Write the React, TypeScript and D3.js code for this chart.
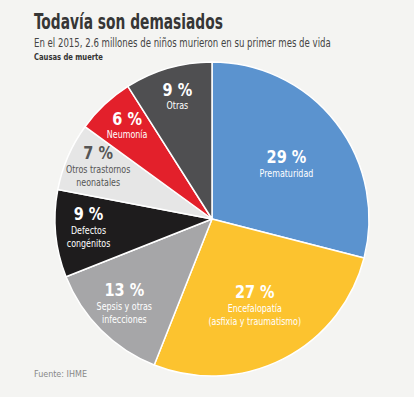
import React, { useEffect, useRef } from 'react';
import * as d3 from 'd3';

// Causes of neonatal death, 2015 (share of total)
const causes = ['Prematuridad', 'Encefalopatía', 'Sepsis', 'Defectos', 'Otros trastornos', 'Neumonía', 'Otras'];
const shares = [29, 27, 13, 9, 7, 6, 9];
const labelLines = [
  ['Prematuridad'],
  ['Encefalopatía', '(asfixia y traumatismo)'],
  ['Sepsis y otras', 'infecciones'],
  ['Defectos', 'congénitos'],
  ['Otros trastornos', 'neonatales'],
  ['Neumonía'],
  ['Otras'],
];
const colors = ['#5b93cf', '#fcc32f', '#a6a6a8', '#1e1c1d', '#e6e6e6', '#e3202b', '#4f4f51'];
const textColors = ['#ffffff', '#ffffff', '#ffffff', '#ffffff', '#555555', '#ffffff', '#ffffff'];

const W = 414;
const H = 397;
const narrow = "'DejaVu Sans Condensed', 'DejaVu Sans', sans-serif";

type TextSel = d3.Selection<SVGTextElement, unknown, null, undefined>;

// squeeze a text horizontally to a target width (source uses a narrow typeface)
const fitWidth = (sel: TextSel, x: number, y: number, target: number) => {
  const node = sel.node();
  if (!node) return;
  const sx = target / node.getComputedTextLength();
  sel.attr('x', 0).attr('y', 0).attr('transform', `translate(${x}, ${y}) scale(${sx}, 1)`);
};

const condense = (sel: TextSel, factor: number) => {
  const node = sel.node();
  if (!node) return;
  const len = node.getComputedTextLength();
  sel.attr('textLength', len * factor).attr('lengthAdjust', 'spacingAndGlyphs');
};

const App: React.FC = () => {
  const svgRef = useRef<SVGSVGElement>(null);

  useEffect(() => {
    if (!svgRef.current) return;
    const root = d3.select(svgRef.current);
    root.selectAll('*').remove();

    root.append('rect').attr('width', W).attr('height', H).attr('fill', '#f4f4f2');

    // Header
    const title = root.append('text')
      .attr('font-family', narrow)
      .attr('font-weight', 'bold')
      .attr('font-size', 22)
      .attr('fill', '#363636')
      .text('Todavía son demasiados');
    fitWidth(title as any, 34, 29, 189);

    const subtitle = root.append('text')
      .attr('font-family', narrow)
      .attr('font-size', 13)
      .attr('fill', '#444')
      .text('En el 2015, 2.6 millones de niños murieron en su primer mes de vida');
    fitWidth(subtitle as any, 34, 46.5, 297);

    const causas = root.append('text')
      .attr('font-family', narrow)
      .attr('font-weight', 'bold')
      .attr('font-size', 9.5)
      .attr('fill', '#333')
      .text('Causas de muerte');
    fitWidth(causas as any, 34, 59.5, 69);

    const source = root.append('text')
      .attr('font-family', narrow)
      .attr('font-size', 9)
      .attr('fill', '#888')
      .text('Fuente: IHME');
    fitWidth(source as any, 34, 377, 53);

    // Pie
    const cx = 212;
    const cy = 219;
    const radius = 157;

    const data = causes.map((c, i) => ({ cause: c, value: shares[i], i }));
    const pie = d3.pie<typeof data[number]>().sort(null).value(d => d.value);
    const arcs = pie(data);
    const arc = d3.arc<d3.PieArcDatum<typeof data[number]>>()
      .innerRadius(0)
      .outerRadius(radius);

    const g = root.append('g').attr('transform', `translate(${cx}, ${cy})`);

    g.selectAll('path.slice')
      .data(arcs)
      .enter()
      .append('path')
      .attr('class', 'slice')
      .attr('d', arc)
      .attr('fill', d => colors[d.data.i])
      .attr('stroke', '#fff')
      .attr('stroke-width', 1.5)
      .attr('stroke-linejoin', 'round');

    // Labels: large slices closer to the center (and a bit lower), small ones further out
    const labels = g.selectAll('g.label')
      .data(arcs)
      .enter()
      .append('g')
      .attr('class', 'label')
      .attr('transform', d => {
        const big = d.data.value > 20;
        const r = big ? radius * 0.6 : radius * 0.79;
        const a = (d.startAngle + d.endAngle) / 2;
        return `translate(${Math.sin(a) * r}, ${-Math.cos(a) * r + (big ? 6 : 0)})`;
      });

    labels.each(function (d) {
      const lines = labelLines[d.data.i];
      const k = lines.length;
      const top = -4 - (k - 1) * 6.5;
      const sel = d3.select(this as SVGGElement);
      const pct = sel.append('text')
        .attr('y', top)
        .attr('text-anchor', 'middle')
        .attr('font-family', narrow)
        .attr('font-weight', 'bold')
        .attr('font-size', 17.5)
        .attr('fill', textColors[d.data.i])
        .text(`${d.data.value} %`);
      condense(pct as any, 0.92);
      lines.forEach((ln, j) => {
        const t = sel.append('text')
          .attr('y', top + 13.5 + j * 13)
          .attr('text-anchor', 'middle')
          .attr('font-family', narrow)
          .attr('font-size', 10.5)
          .attr('fill', textColors[d.data.i])
          .text(ln);
        condense(t as any, 0.84);
      });
    });
  }, []);

  return (
    <svg
      ref={svgRef}
      width={W}
      height={H}
      style={{ position: 'absolute', left: 0, top: 0, display: 'block' }}
    />
  );
};

export default App;
